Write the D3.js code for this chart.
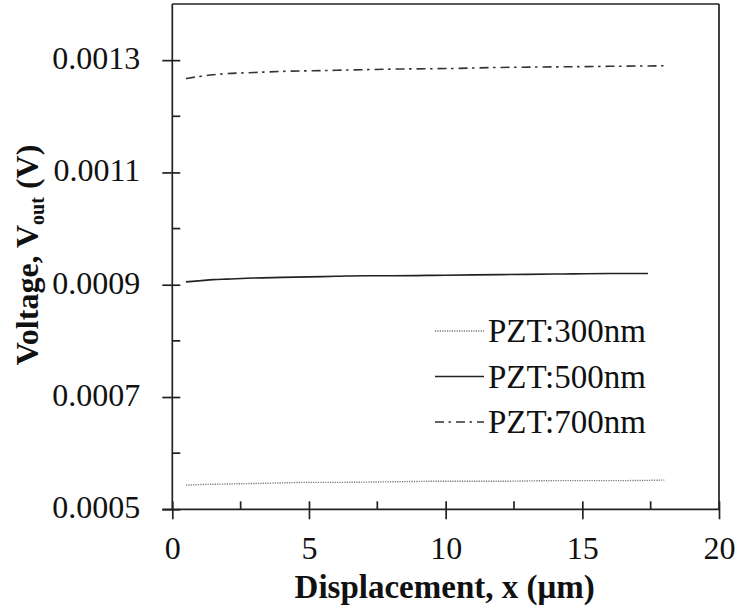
<!DOCTYPE html>
<html>
<head>
<meta charset="utf-8">
<script src="https://cdn.jsdelivr.net/npm/d3@7/dist/d3.min.js"></script>
<style>
  html, body { margin: 0; padding: 0; background: #fff; }
  svg { display: block; }
</style>
</head>
<body>
<svg id="chart" width="738" height="615"></svg>
<script>
// Output voltage vs. displacement for three PZT film thicknesses
const x300 = [0.5, 1, 2, 3, 4, 5, 6, 8, 10, 12, 14, 16, 18];
const v300 = [0.000543, 0.000544, 0.000545, 0.000546, 0.000547, 0.000548, 0.000548,
              0.000549, 0.000550, 0.000550, 0.000551, 0.000551, 0.000552];

const x500 = [0.5, 1, 1.5, 2, 3, 4, 5, 6, 7, 8, 10, 12, 14, 16, 17.4];
const v500 = [0.000905, 0.000907, 0.000909, 0.000910, 0.000912, 0.000913, 0.000914, 0.000915,
              0.000916, 0.000916, 0.000917, 0.000918, 0.000919, 0.000920, 0.000920];

const x700 = [0.5, 1, 1.5, 2, 3, 4, 5, 6, 7, 8, 10, 12, 14, 16, 18];
const v700 = [0.001267, 0.001271, 0.001274, 0.001276, 0.001278, 0.001280, 0.001281, 0.001282,
              0.001283, 0.001284, 0.001285, 0.001287, 0.001288, 0.001289, 0.001290];

const seriesNames = ["PZT:300nm", "PZT:500nm", "PZT:700nm"];
const xMajor = [0, 5, 10, 15, 20];
const xMinor = [2.5, 7.5, 12.5, 17.5];
const yMajor = [0.0005, 0.0007, 0.0009, 0.0011, 0.0013];
const yMinor = [0.0006, 0.0008, 0.0010, 0.0012];

const FONT = "'Liberation Serif'";
const svg = d3.select("#chart");
const x = d3.scaleLinear().domain([0, 20]).range([172.3, 719]);
const y = d3.scaleLinear().domain([0.0005, 0.0014]).range([509.3, 4]);

const axisColor = "#222";
const axisW = 1.7;

// Frame
const g = svg.append("g");
g.append("line").attr("x1", x(0)).attr("x2", x(20)).attr("y1", y(0.0014)).attr("y2", y(0.0014))
  .attr("stroke", axisColor).attr("stroke-width", axisW);
g.append("line").attr("x1", x(20)).attr("x2", x(20)).attr("y1", y(0.0014)).attr("y2", y(0.0005))
  .attr("stroke", axisColor).attr("stroke-width", axisW);

// Y axis: labels from d3.axisLeft, crossing ticks drawn from the scale
const yAxis = d3.axisLeft(y).tickValues(yMajor).tickSize(0).tickPadding(0)
  .tickFormat(d3.format(".4f"));
const yg = svg.append("g").attr("transform", `translate(${x(0)},0)`).call(yAxis);
yg.attr("font-family", null).attr("font-size", null);
yg.select(".domain").attr("stroke", axisColor).attr("stroke-width", axisW)
  .attr("d", `M0,${y(0.0014)}V${y(0.0005)}`);
yg.selectAll(".tick text").attr("x", -32).attr("dy", "0.26em")
  .style("font-family", FONT).style("font-size", "32px").attr("fill", "#111");
yg.selectAll(".tick").append("line").attr("x1", -10).attr("x2", 8)
  .attr("stroke", axisColor).attr("stroke-width", axisW);
yg.selectAll(".minor").data(yMinor).enter().append("line").attr("class", "minor")
  .attr("x1", 0).attr("x2", 8).attr("y1", d => y(d)).attr("y2", d => y(d))
  .attr("stroke", axisColor).attr("stroke-width", axisW);

// X axis
const xAxis = d3.axisBottom(x).tickValues(xMajor).tickSize(0).tickPadding(0).tickFormat(d3.format("d"));
const xg = svg.append("g").attr("transform", `translate(0,${y(0.0005)})`).call(xAxis);
xg.attr("font-family", null).attr("font-size", null);
xg.select(".domain").attr("stroke", axisColor).attr("stroke-width", axisW)
  .attr("d", `M${x(0) - 10},0H${x(20)}`);
xg.selectAll(".tick text").attr("y", 50).attr("dy", 0)
  .style("font-family", FONT).style("font-size", "32px").attr("fill", "#111");
xg.selectAll(".tick").append("line").attr("y1", -8).attr("y2", 10)
  .attr("stroke", axisColor).attr("stroke-width", axisW);
xg.selectAll(".minor").data(xMinor).enter().append("line").attr("class", "minor")
  .attr("x1", d => x(d)).attr("x2", d => x(d)).attr("y1", -8).attr("y2", 0)
  .attr("stroke", axisColor).attr("stroke-width", axisW);

// Series
const line = d3.line().x(d => x(d[0])).y(d => y(d[1])).curve(d3.curveMonotoneX);
const styles = [
  { stroke: "#777", width: 1.4, dash: "1.2,1.2" },
  { stroke: "#222", width: 1.6, dash: null },
  { stroke: "#333", width: 1.6, dash: "9,4.5,2.5,5" }
];
const data = [d3.zip(x300, v300), d3.zip(x500, v500), d3.zip(x700, v700)];
data.forEach((pts, i) => {
  svg.append("path").datum(pts).attr("d", line).attr("fill", "none")
    .attr("stroke", styles[i].stroke).attr("stroke-width", styles[i].width)
    .attr("stroke-dasharray", styles[i].dash);
});

// Legend
const legendBase = [342, 387.5, 433];
seriesNames.forEach((name, i) => {
  const by = legendBase[i];
  svg.append("line").attr("x1", 435).attr("x2", 484).attr("y1", by - 11).attr("y2", by - 11)
    .attr("stroke", styles[i].stroke).attr("stroke-width", styles[i].width)
    .attr("stroke-dasharray", styles[i].dash);
  svg.append("text").attr("x", 488).attr("y", by)
    .style("font-family", FONT).style("font-size", "33px").attr("fill", "#111").text(name);
});

// Axis titles
svg.append("text").attr("x", (x(0) + x(20)) / 2 - 1).attr("y", 598).attr("text-anchor", "middle")
  .style("font-family", FONT).style("font-size", "33px").style("font-weight", "bold")
  .attr("fill", "#111").text("Displacement, x (μm)");

const yt = svg.append("text").attr("transform", "translate(38,255) rotate(-90)")
  .attr("text-anchor", "middle").style("font-family", FONT)
  .style("font-size", "32px").style("font-weight", "bold").attr("fill", "#111");
yt.append("tspan").text("Voltage, V");
yt.append("tspan").attr("dy", 6).style("font-size", "20px").text("out");
yt.append("tspan").attr("dy", -6).text(" (V)");
</script>
</body>
</html>
